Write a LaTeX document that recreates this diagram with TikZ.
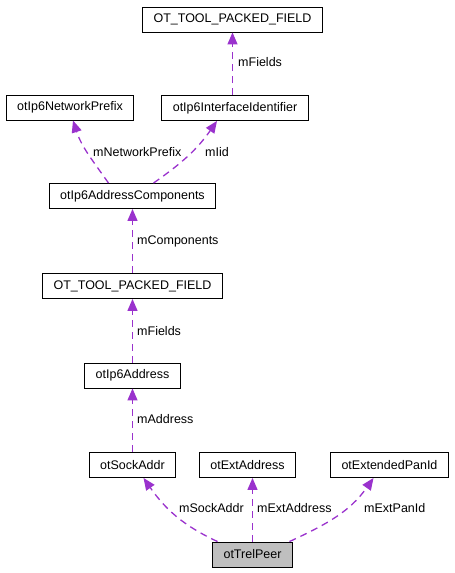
\documentclass[tikz,border=0pt]{standalone}
\usepackage{fontspec}
\setmainfont{Liberation Sans}
\usepackage{xcolor}
\usetikzlibrary{arrows.meta}

\definecolor{edgepurple}{HTML}{9A32CD}
\definecolor{trelgray}{HTML}{BFBFBF}

\tikzset{
  cls/.style={draw=black, line width=0.9pt, fill=white, minimum height=25pt,
    inner xsep=11pt, inner ysep=0pt, font=\fontsize{12.5}{14}\selectfont},
  member/.style={draw=edgepurple, line width=1.3pt, dash pattern=on 7pt off 5pt,
    -{Triangle[length=12pt,width=10pt,fill=edgepurple]}},
  lbl/.style={anchor=west, inner sep=0pt, font=\fontsize{12.5}{14}\selectfont}
}

\begin{document}
\begin{tikzpicture}[x=1pt,y=-1pt]
  \useasboundingbox (0,0) rectangle (455,573);
  % classes
  \node[cls] (fieldsTop) at (232.5,19.5) {OT\_TOOL\_PACKED\_FIELD};
  \node[cls] (prefix) at (70,107.5) {otIp6NetworkPrefix};
  \node[cls] (iid) at (235,108) {otIp6InterfaceIdentifier};
  \node[cls] (comp) at (132.5,196) {otIp6AddressComponents};
  \node[cls] (fields) at (132.5,286) {OT\_TOOL\_PACKED\_FIELD};
  \node[cls] (addr) at (132.5,375.5) {otIp6Address};
  \node[cls] (sock) at (132.5,465) {otSockAddr};
  \node[cls] (ext) at (247.5,465) {otExtAddress};
  \node[cls] (panid) at (389.5,465) {otExtendedPanId};
  \node[cls,fill=trelgray] (peer) at (252.5,554.5) {otTrelPeer};

  % members
  \draw[member] (fieldsTop.south |- iid.north) -- (fieldsTop.south);
  \node[lbl] (lFieldsTop) at (238,62) {mFields};
  \draw[member] ([xshift=-24pt]comp.north) to[out=125,in=-72] ([xshift=3pt]prefix.south);
  \node[lbl] (lPrefix) at (93,152) {mNetworkPrefix};
  \draw[member] ([xshift=21pt]comp.north) to[out=35,in=-125] ([xshift=-18pt]iid.south);
  \node[lbl] (lIid) at (205,152) {mIid};
  \draw[member] (fields.north) -- (fields.north |- comp.south);
  \node[lbl] (lComp) at (137,241) {mComponents};
  \draw[member] (addr.north) -- (addr.north |- fields.south);
  \node[lbl] (lFields) at (137,331) {mFields};
  \draw[member] (sock.north) -- (sock.north |- addr.south);
  \node[lbl] (lAddr) at (137,419) {mAddress};
  \draw[member] ([xshift=-35pt]peer.north) to[out=155,in=-55] ([xshift=11pt]sock.south);
  \node[lbl] (lSock) at (179,508) {mSockAddr};
  \draw[member] (peer.north) -- (peer.north |- ext.south);
  \node[lbl] (lExt) at (257,508) {mExtAddress};
  \draw[member] ([xshift=37pt]peer.north) to[out=25,in=-125] ([xshift=-16pt]panid.south);
  \node[lbl] (lPanid) at (364,508) {mExtPanId};
\end{tikzpicture}
\end{document}
